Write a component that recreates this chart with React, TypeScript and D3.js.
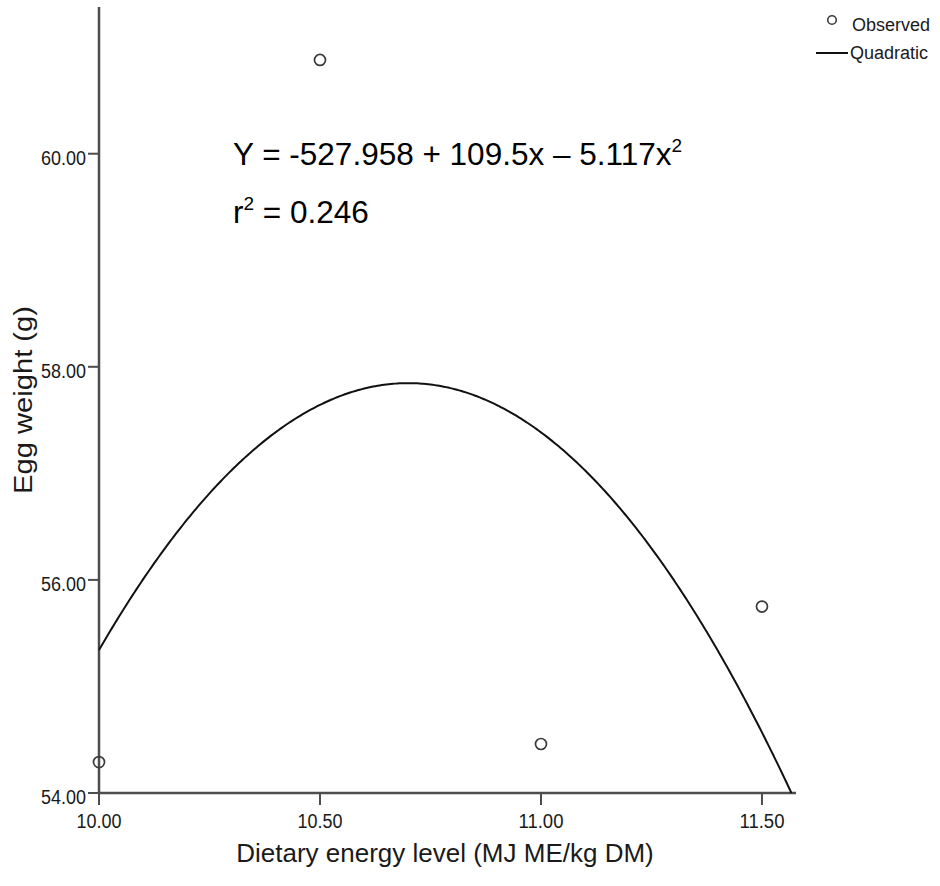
import React from "react";
import * as d3 from "d3";

// Observed mean egg weight at each dietary energy level
const energyLevels = [10.0, 10.5, 11.0, 11.5];
const eggWeights = [54.29, 60.88, 54.46, 55.75];

// Quadratic fit: Y = b0 + b1*x + b2*x^2
const fitCoefficients = [-527.958, 109.5, -5.117];
const rSquared = "0.246";

const xTicks = [10.0, 10.5, 11.0, 11.5];
const yTicks = [54.0, 56.0, 58.0, 60.0];

const legendLabels = ["Observed", "Quadratic"];

const W = 940;
const H = 886;
const FONT = "'Liberation Sans', Arial, Helvetica, sans-serif";

export default function App() {
  const x = d3.scaleLinear().domain([10, 11.577]).range([99, 796]);
  const y = d3.scaleLinear().domain([54, 61.377]).range([793, 7]);

  const [b0, b1, b2] = fitCoefficients;
  const fit = (v: number) => b0 + b1 * v + b2 * v * v;
  // where the fitted curve drops to the bottom of the value axis
  const yMin = y.domain()[0];
  const disc = b1 * b1 - 4 * b2 * (b0 - yMin);
  const xEnd = Math.min((-b1 - Math.sqrt(disc)) / (2 * b2), x.domain()[1]);
  const xs = d3.range(10, xEnd, 0.005).concat([xEnd]);
  const line = d3
    .line<number>()
    .x((v) => x(v))
    .y((v) => y(Math.max(fit(v), yMin)))
    .curve(d3.curveLinear);

  const axisColor = "#4d4d4d";
  const textColor = "#1a1a1a";

  return (
    <svg
      width={W}
      height={H}
      style={{ position: "absolute", left: 0, top: 0, background: "#fff" }}
      fontFamily={FONT}
    >
      {/* value axis */}
      <line x1={x(10)} x2={x(10)} y1={y.range()[1]} y2={y.range()[0]} stroke={axisColor} strokeWidth={2.5} />
      {yTicks.map((t) => (
        <g key={"y" + t}>
          <line x1={x(10) - 11} x2={x(10)} y1={y(t)} y2={y(t)} stroke={axisColor} strokeWidth={2} />
          <text
            x={86}
            y={y(t) + 11}
            textAnchor="end"
            fontSize={20}
            textLength={45}
            lengthAdjust="spacingAndGlyphs"
            fill={textColor}
          >
            {t.toFixed(2)}
          </text>
        </g>
      ))}

      {/* energy axis */}
      <line x1={x.range()[0]} x2={x.range()[1]} y1={y(54)} y2={y(54)} stroke={axisColor} strokeWidth={2.5} />
      {xTicks.map((t) => (
        <g key={"x" + t}>
          <line x1={x(t)} x2={x(t)} y1={y(54)} y2={y(54) + 12} stroke={axisColor} strokeWidth={2} />
          <text
            x={x(t) - 22.5}
            y={y(54) + 35}
            fontSize={20}
            textLength={45}
            lengthAdjust="spacingAndGlyphs"
            fill={textColor}
          >
            {t.toFixed(2)}
          </text>
        </g>
      ))}

      {/* fitted curve */}
      <path d={line(xs) || ""} fill="none" stroke="#111" strokeWidth={2} />

      {/* observed points */}
      {energyLevels.map((e, i) => (
        <circle key={"p" + i} cx={x(e)} cy={y(eggWeights[i])} r={5.5} fill="none" stroke="#3a3a3a" strokeWidth={1.7} />
      ))}

      {/* equation */}
      <text x={233} y={165} fontSize={31.5} fill="#000">
        {`Y = ${b0} + ${b1}x \u2013 ${Math.abs(b2)}x`}
        <tspan fontSize={19} dy={-13}>2</tspan>
      </text>
      <text x={233} y={223} fontSize={31.5} fill="#000">
        r<tspan fontSize={19} dy={-13}>2</tspan>
        <tspan dy={13}>{` = ${rSquared}`}</tspan>
      </text>

      {/* axis titles */}
      <text x={445} y={862} textAnchor="middle" fontSize={26} fill={textColor}>
        Dietary energy level (MJ ME/kg DM)
      </text>
      <text
        transform="translate(32,400) rotate(-90)"
        textAnchor="middle"
        fontSize={26.5}
        textLength={188}
        lengthAdjust="spacingAndGlyphs"
        fill={textColor}
      >
        Egg weight (g)
      </text>

      {/* legend */}
      <circle cx={832} cy={20} r={4.3} fill="none" stroke="#3a3a3a" strokeWidth={1.6} />
      <text x={852} y={31} fontSize={18} fill={textColor}>
        {legendLabels[0]}
      </text>
      <line x1={816} x2={848} y1={53} y2={53} stroke="#111" strokeWidth={2} />
      <text x={850} y={59} fontSize={18} fill={textColor}>
        {legendLabels[1]}
      </text>
    </svg>
  );
}
